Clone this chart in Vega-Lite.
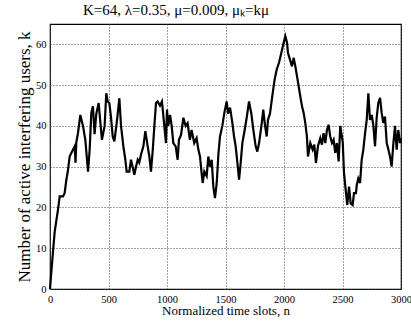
{
  "$schema": "https://vega.github.io/schema/vega-lite/v6.json",
  "autosize": "none",
  "width": 351,
  "height": 265,
  "padding": {"left": 50, "top": 24, "right": 10, "bottom": 35},
  "background": "white",
  "title": {"text": "K=64, λ=0.35, μ=0.009, μₖ=kμ", "anchor": "start", "frame": "group", "dx": 33, "font": "Liberation Serif", "fontSize": 15, "fontWeight": "normal", "color": "black", "offset": 6},
  "config": {
    "view": {"stroke": "black", "strokeWidth": 1.2},
    "axis": {"labelFont": "Liberation Serif", "labelFontSize": 10.5, "labelColor": "black", "titleFont": "Liberation Serif", "titleFontWeight": "normal", "titleColor": "black", "grid": true, "gridColor": "#444", "gridDash": [1, 2], "gridWidth": 1, "domain": false, "ticks": false}
  },
  "data": {"values": [
    {"n":0,"k":0},{"n":11,"k":4},{"n":25,"k":9},{"n":40,"k":14},{"n":45,"k":15},{"n":68,"k":19.4},{"n":83,"k":22.7},{"n":111,"k":22.7},{"n":125,"k":23.5},{"n":140,"k":26.8},{"n":154,"k":29.2},{"n":168,"k":32.5},{"n":197,"k":34.2},{"n":211,"k":35},{"n":218,"k":31},{"n":225,"k":36},{"n":239,"k":38.2},{"n":259,"k":42.7},{"n":282,"k":40},{"n":302,"k":36.6},{"n":325,"k":28.8},{"n":339,"k":34.2},{"n":353,"k":43.2},{"n":367,"k":44.8},{"n":381,"k":38},{"n":396,"k":43},{"n":416,"k":45.6},{"n":433,"k":40},{"n":444,"k":36.6},{"n":467,"k":40},{"n":481,"k":48},{"n":493,"k":46},{"n":507,"k":45.6},{"n":521,"k":42.3},{"n":536,"k":37.4},{"n":550,"k":36.2},{"n":570,"k":40.7},{"n":593,"k":46.8},{"n":607,"k":40},{"n":627,"k":35},{"n":644,"k":31.7},{"n":655,"k":28.8},{"n":678,"k":28.8},{"n":692,"k":31.7},{"n":706,"k":30},{"n":721,"k":28},{"n":735,"k":30},{"n":750,"k":31.7},{"n":763,"k":31},{"n":778,"k":33},{"n":798,"k":35},{"n":815,"k":38.7},{"n":835,"k":35},{"n":849,"k":32.5},{"n":863,"k":28.8},{"n":878,"k":34},{"n":892,"k":40},{"n":906,"k":45.6},{"n":920,"k":46},{"n":940,"k":45},{"n":957,"k":46},{"n":977,"k":40},{"n":991,"k":35.8},{"n":1000,"k":44},{"n":1011,"k":40},{"n":1026,"k":42.7},{"n":1040,"k":40},{"n":1054,"k":35.8},{"n":1074,"k":35},{"n":1091,"k":31.7},{"n":1102,"k":36.6},{"n":1120,"k":37.8},{"n":1140,"k":42},{"n":1159,"k":40},{"n":1176,"k":40.7},{"n":1196,"k":36.6},{"n":1210,"k":39},{"n":1233,"k":35.8},{"n":1253,"k":37},{"n":1268,"k":34.2},{"n":1282,"k":32.5},{"n":1296,"k":28.4},{"n":1305,"k":26},{"n":1319,"k":28.8},{"n":1339,"k":27.7},{"n":1353,"k":32.5},{"n":1367,"k":30},{"n":1382,"k":31.7},{"n":1396,"k":25.1},{"n":1410,"k":22.3},{"n":1425,"k":26},{"n":1439,"k":33},{"n":1453,"k":37.4},{"n":1473,"k":40},{"n":1490,"k":43.2},{"n":1510,"k":46},{"n":1522,"k":43},{"n":1539,"k":44.5},{"n":1559,"k":40.7},{"n":1573,"k":37.4},{"n":1587,"k":35},{"n":1602,"k":30.9},{"n":1616,"k":26.8},{"n":1630,"k":31},{"n":1644,"k":35.8},{"n":1664,"k":39},{"n":1681,"k":42},{"n":1701,"k":46},{"n":1721,"k":43},{"n":1738,"k":39},{"n":1758,"k":35},{"n":1772,"k":33.7},{"n":1787,"k":35.8},{"n":1807,"k":40},{"n":1823,"k":44},{"n":1835,"k":40.7},{"n":1852,"k":37.4},{"n":1863,"k":41.5},{"n":1880,"k":43},{"n":1900,"k":47.3},{"n":1920,"k":51.4},{"n":1937,"k":53.8},{"n":1957,"k":55.5},{"n":1977,"k":57.9},{"n":1997,"k":60.4},{"n":2011,"k":62},{"n":2026,"k":60.4},{"n":2034,"k":57.9},{"n":2054,"k":56},{"n":2068,"k":54.6},{"n":2083,"k":56.7},{"n":2097,"k":54.6},{"n":2111,"k":52.2},{"n":2125,"k":49.8},{"n":2139,"k":47.3},{"n":2154,"k":44.8},{"n":2168,"k":43.2},{"n":2182,"k":40.7},{"n":2196,"k":37.4},{"n":2205,"k":32.5},{"n":2225,"k":35.8},{"n":2245,"k":34.2},{"n":2259,"k":35.4},{"n":2273,"k":30.9},{"n":2290,"k":35},{"n":2310,"k":37},{"n":2324,"k":35.4},{"n":2338,"k":38.2},{"n":2353,"k":35.8},{"n":2367,"k":39},{"n":2381,"k":40.3},{"n":2395,"k":37.4},{"n":2410,"k":35.8},{"n":2424,"k":36.6},{"n":2438,"k":33.4},{"n":2452,"k":35.8},{"n":2467,"k":31.3},{"n":2481,"k":40},{"n":2495,"k":37.4},{"n":2502,"k":36},{"n":2513,"k":28.4},{"n":2530,"k":23.5},{"n":2541,"k":20.6},{"n":2556,"k":25.1},{"n":2570,"k":21},{"n":2587,"k":20.6},{"n":2598,"k":23.5},{"n":2615,"k":23.5},{"n":2622,"k":25.5},{"n":2635,"k":27.1},{"n":2650,"k":26},{"n":2664,"k":31.7},{"n":2678,"k":34.2},{"n":2692,"k":38},{"n":2707,"k":41.5},{"n":2721,"k":48},{"n":2735,"k":41.5},{"n":2750,"k":42.7},{"n":2764,"k":40},{"n":2778,"k":35},{"n":2792,"k":42},{"n":2806,"k":45.6},{"n":2821,"k":46.9},{"n":2835,"k":43.2},{"n":2849,"k":40.7},{"n":2863,"k":42.3},{"n":2878,"k":35.8},{"n":2892,"k":34.2},{"n":2906,"k":32.5},{"n":2920,"k":30},{"n":2935,"k":35.8},{"n":2949,"k":40},{"n":2963,"k":34.2},{"n":2977,"k":39},{"n":2992,"k":35.8},{"n":3000,"k":37}
  ]},
  "mark": {"type": "line", "color": "black", "strokeWidth": 2.2, "strokeJoin": "miter"},
  "encoding": {
    "x": {"field": "n", "type": "quantitative", "scale": {"domain": [0, 3000], "nice": false}, "axis": {"values": [0, 500, 1000, 1500, 2000, 2500, 3000], "format": "d", "title": "Normalized time slots, n", "titleFontSize": 13, "labelPadding": 5, "titlePadding": 0, "labelFlush": false}},
    "y": {"field": "k", "type": "quantitative", "scale": {"domain": [0, 65], "nice": false}, "axis": {"values": [0, 10, 20, 30, 40, 50, 60], "format": "d", "title": "Number of active interfering users, k", "titleFontSize": 17, "labelPadding": 4, "titlePadding": 2}}
  }
}
